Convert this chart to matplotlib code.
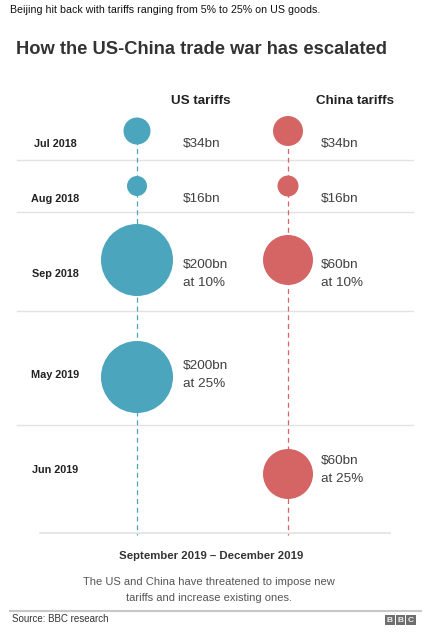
"""
BBC-style timeline of US / China tariff rounds (bubble column chart).
"""
import matplotlib.pyplot as plt
from matplotlib.patches import Circle, Rectangle

# ---------------------------------------------------------------------------
# Data
# ---------------------------------------------------------------------------
months = ["Jul 2018", "Aug 2018", "Sep 2018", "May 2019", "Jun 2019"]
us_amount = [34, 16, 200, 200, None]        # $bn
us_rate = [None, None, 10, 25, None]         # %
cn_amount = [34, 16, 60, None, 60]
cn_rate = [None, None, 10, None, 25]

# ---------------------------------------------------------------------------
# Layout / style (figure works in pixel units, y pointing down)
# ---------------------------------------------------------------------------
W, H = 440, 632
row_text_y = [144, 199, 274, 375, 470]
row_bubble_y = [131, 186, 260, 377, 474]
row_lines = [160, 212, 311, 425]
bottom_line = 533

x_label = 55
x_us, x_cn = 137, 288
x_us_txt, x_cn_txt = 183, 321

# bubble radius (px) per amount, as drawn in the original graphic
us_radius = {34: 13.5, 16: 10, 200: 36}
cn_radius = {34: 15, 16: 10.5, 60: 25}

col_us = "#4aa5bd"
col_cn = "#d56565"
col_grid = "#e2e2e2"
col_txt = "#404040"
col_dark = "#222222"

plt.rcParams["font.family"] = ["Liberation Sans", "DejaVu Sans"]

fig = plt.figure(figsize=(W / 100, H / 100), dpi=100)
ax = fig.add_axes([0, 0, 1, 1])
ax.set_xlim(0, W)
ax.set_ylim(H, 0)
ax.axis("off")

# header texts
ax.text(10, 10, "Beijing hit back with tariffs ranging from 5% to 25% on US goods.",
        fontsize=7.7, color="#111111", va="center", ha="left")
ax.text(16, 50, "How the US-China trade war has escalated",
        fontsize=13.2, fontweight="bold", color="#333333", va="center", ha="left")
ax.text(201, 101, "US tariffs", fontsize=9.6, fontweight="bold",
        color=col_dark, ha="center", va="center")
ax.text(355, 101, "China tariffs", fontsize=9.6, fontweight="bold",
        color=col_dark, ha="center", va="center")

# row separators
for y in row_lines:
    ax.plot([17, 413], [y, y], color=col_grid, lw=1.0, zorder=1)
ax.plot([40, 390], [bottom_line, bottom_line], color=col_grid, lw=1.2, zorder=1)

# dashed stems
ax.plot([x_us, x_us], [row_bubble_y[0], bottom_line + 2], color=col_us,
        lw=0.9, ls=(0, (4, 3)), zorder=2)
ax.plot([x_cn, x_cn], [row_bubble_y[0], bottom_line + 2], color=col_cn,
        lw=0.9, ls=(0, (4, 3)), zorder=2)


def _label(amount, rate):
    s = f"${amount}bn"
    if rate is not None:
        s += f"\nat {rate}%"
    return s


for i, m in enumerate(months):
    ty, by = row_text_y[i], row_bubble_y[i]
    ax.text(x_label, ty, m, fontsize=7.8, fontweight="bold", color=col_dark,
            ha="center", va="center")
    if us_amount[i] is not None:
        ax.add_patch(Circle((x_us, by), us_radius[us_amount[i]],
                            color=col_us, zorder=3, lw=0))
        ax.text(x_us_txt, ty, _label(us_amount[i], us_rate[i]), fontsize=9.7,
                color=col_txt, ha="left", va="center", linespacing=1.6)
    if cn_amount[i] is not None:
        ax.add_patch(Circle((x_cn, by), cn_radius[cn_amount[i]],
                            color=col_cn, zorder=3, lw=0))
        ax.text(x_cn_txt, ty, _label(cn_amount[i], cn_rate[i]), fontsize=9.7,
                color=col_txt, ha="left", va="center", linespacing=1.6)

# footer block
ax.text(211, 556, "September 2019 \u2013 December 2019", fontsize=8.2,
        fontweight="bold", color="#333333", ha="center", va="center")
ax.text(209, 590, "The US and China have threatened to impose new\n"
        "tariffs and increase existing ones.", fontsize=8, color="#555555",
        ha="center", va="center", linespacing=1.65)

ax.plot([10, 421], [611, 611], color="#c8c8c8", lw=1.5)
ax.text(12, 619.5, "Source: BBC research", fontsize=7, color="#333333",
        ha="left", va="center")
for k, ch in enumerate("BBC"):
    x0 = 385 + k * 10.7
    ax.add_patch(Rectangle((x0, 615), 9.5, 9.5, color="#6e6e6e", lw=0))
    ax.text(x0 + 4.75, 620, ch, fontsize=6, fontweight="bold", color="#f0f0f0",
            ha="center", va="center")

fig.savefig("out.png", dpi=100)
